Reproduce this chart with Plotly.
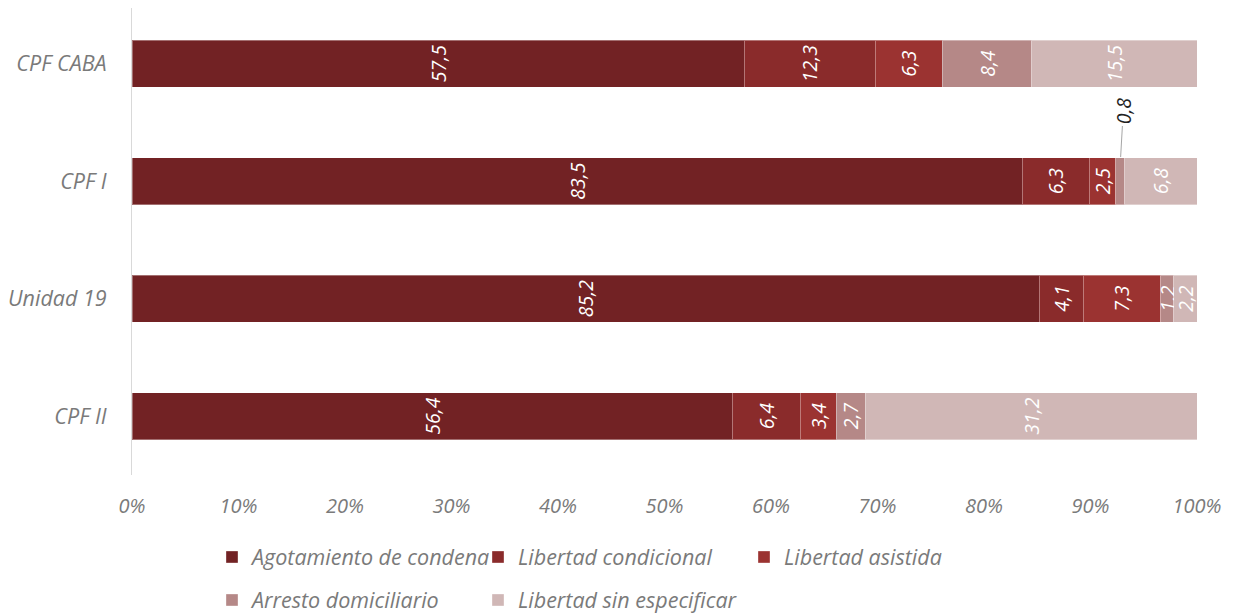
import plotly.graph_objects as go

categories = ["CPF CABA", "CPF I", "Unidad 19", "CPF II"]
series_names = ["Agotamiento de condena", "Libertad condicional", "Libertad asistida",
                "Arresto domiciliario", "Libertad sin especificar"]
agotamiento = [57.5, 83.5, 85.2, 56.4]
condicional = [12.3, 6.3, 4.1, 6.4]
asistida = [6.3, 2.5, 7.3, 3.4]
arresto = [8.4, 0.8, 1.2, 2.7]
sin_especificar = [15.5, 6.8, 2.2, 31.2]
colors = ["#722224", "#8A2B2B", "#9B3331", "#B58887", "#D0B7B6"]
x_tickvals = [0, 10, 20, 30, 40, 50, 60, 70, 80, 90, 100]
x_ticktext = ["0%", "10%", "20%", "30%", "40%", "50%", "60%", "70%", "80%", "90%", "100%"]

series = [agotamiento, condicional, asistida, arresto, sin_especificar]
FONT = "Open Sans"
GRAY = "#7a7a7a"

# the page adds an 8px body margin, so the figure itself is 8px smaller
W, H = 1226, 607
L, R, T, B = 124, 37, 0, 140
PLOT_H = H - T - B


def fmt(v):
    return f"{v:.1f}".replace(".", ",")


fig = go.Figure()
for i, (name, vals, col) in enumerate(zip(series_names, series, colors)):
    texts = [fmt(v) for v in vals]
    if name == "Arresto domiciliario":
        texts[1] = ""  # labelled with a callout instead
    fig.add_trace(go.Bar(
        y=categories, x=vals, name=name, orientation="h",
        marker=dict(color=col, line=dict(color="rgba(255,255,255,0.35)", width=1)),
        text=texts, textposition="inside", insidetextanchor="middle",
        textangle=-90,
        textfont=dict(family=FONT, size=19.5, color="white", style="italic"),
        legend="legend" if i < 3 else "legend2",
        hoverinfo="skip",
    ))

# callout for the small 0,8 segment of CPF I
x_callout = agotamiento[1] + condicional[1] + asistida[1] + arresto[1] / 2
fig.add_annotation(
    x=x_callout, y="CPF I", xref="x", yref="y",
    text=fmt(arresto[1]), textangle=-90,
    font=dict(family=FONT, size=19.5, color="#222222", style="italic"),
    showarrow=True, arrowhead=0, arrowwidth=1, arrowcolor="#a6a6a6",
    ax=4, ay=-70, standoff=24,
)

legend_common = dict(
    orientation="h", xref="paper", yref="paper", xanchor="left", yanchor="middle",
    font=dict(family=FONT, size=21.5, color=GRAY, style="italic"),
    entrywidth=221, entrywidthmode="pixels", bgcolor="rgba(0,0,0,0)",
    traceorder="normal",
)

fig.update_layout(
    width=W, height=H,
    margin=dict(l=L, r=R, t=T, b=B, pad=0, autoexpand=False),
    barmode="stack", barnorm="percent", bargap=0.6,
    plot_bgcolor="white", paper_bgcolor="white",
    font=dict(family=FONT, color=GRAY),
    uniformtext=dict(minsize=19.5, mode="show"),
    xaxis=dict(
        range=[0, 100], tickvals=x_tickvals, ticktext=x_ticktext,
        showgrid=False, zeroline=False, showline=False,
        tickfont=dict(family=FONT, size=20, color=GRAY, style="italic"),
        ticklabelstandoff=17, fixedrange=True,
    ),
    yaxis=dict(
        categoryorder="array", categoryarray=categories,
        range=[3.502, -0.4723],
        showgrid=False, zeroline=False, showline=True, linecolor="#d9d9d9", linewidth=1,
        tickfont=dict(family=FONT, size=21.5, color=GRAY, style="italic"),
        ticklabelstandoff=20, fixedrange=True,
    ),
    legend=dict(x=(212 - 132) / 1065, y=(475 - 557) / PLOT_H, **legend_common),
    legend2=dict(x=(212 - 132) / 1065, y=(475 - 600) / PLOT_H, **legend_common),
    showlegend=True,
)

fig.write_html("out.html")
